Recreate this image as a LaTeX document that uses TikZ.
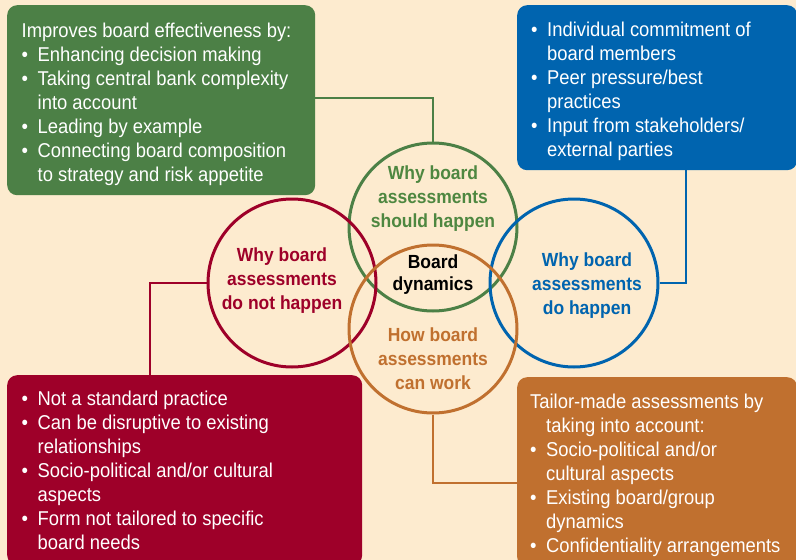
\documentclass[tikz,border=0pt]{standalone}
\usepackage{fontspec}
\setmainfont{Liberation Sans}[FakeStretch=0.92]
\definecolor{bggold}{HTML}{FDEBCF}
\definecolor{gpanel}{HTML}{4C8046}
\definecolor{gtext}{HTML}{4E8740}
\definecolor{bpanel}{HTML}{0064AF}
\definecolor{rpanel}{HTML}{9E0029}
\definecolor{opanel}{HTML}{C0702F}
\newcommand{\bul}{\makebox[16pt][l]{\textbullet}}
\newcommand{\ind}{\hspace*{16pt}}
\begin{document}
\begin{tikzpicture}[x=1pt, y=-1pt,
    panel/.style={rounded corners=10pt, inner sep=0pt, anchor=north west},
    note/.style={anchor=north west, inner sep=0pt, align=left, text=white, font=\fontsize{20}{24}\selectfont},
    ring/.style={circle, draw, line width=3pt, minimum size=168pt, inner sep=0pt},
    tag/.style={anchor=north, inner sep=0pt, align=center, font=\bfseries\fontsize{19}{24}\selectfont},
    link/.style={line width=2.5pt}]
    \useasboundingbox (0,0) rectangle (796,560);
    \fill[bggold] (0,0) rectangle (796,560);

    \node[panel, fill=gpanel, minimum width=308pt, minimum height=190pt] (gbox) at (7,5) {};
    \node[note] (gnote) at (21.5,22.5) {Improves board effectiveness by:\\
      \bul Enhancing decision making\\
      \bul Taking central bank complexity\\
      \ind into account\\
      \bul Leading by example\\
      \bul Connecting board composition\\
      \ind to strategy and risk appetite};

    \node[panel, fill=bpanel, minimum width=280pt, minimum height=165pt] (bbox) at (517,5) {};
    \node[note] (bnote) at (531,22) {\bul Individual commitment of\\
      \ind board members\\
      \bul Peer pressure/best\\
      \ind practices\\
      \bul Input from stakeholders/\\
      \ind external parties};

    \node[panel, fill=rpanel, minimum width=355pt, minimum height=190pt] (rbox) at (7,375) {};
    \node[note] (rnote) at (21.5,391) {\bul Not a standard practice\\
      \bul Can be disruptive to existing\\
      \ind relationships\\
      \bul Socio-political and/or cultural\\
      \ind aspects\\
      \bul Form not tailored to specific\\
      \ind board needs};

    \node[panel, fill=opanel, minimum width=280pt, minimum height=190pt] (obox) at (517,377) {};
    \node[note] (onote) at (530,393.5) {Tailor-made assessments by\\
      \ind taking into account:\\
      \bul Socio-political and/or\\
      \ind cultural aspects\\
      \bul Existing board/group\\
      \ind dynamics\\
      \bul Confidentiality arrangements};

    \node[ring, draw=gpanel] (gring) at (433,227) {};
    \node[ring, draw=rpanel] (rring) at (292,283) {};
    \node[ring, draw=bpanel] (bring) at (574,283) {};
    \node[ring, draw=opanel] (oring) at (433,329) {};

    \node[tag, text=gtext] (gtag) at (433,166) {Why board\\assessments\\should happen};
    \node[tag, text=rpanel] (rtag) at (282,248) {Why board\\assessments\\do not happen};
    \node[tag, text=bpanel] (btag) at (587,253) {Why board\\assessments\\do happen};
    \node[tag, font=\bfseries\fontsize{19}{22}\selectfont] (ctag) at (433,255) {Board\\dynamics};
    \node[tag, text=opanel] (otag) at (433,328) {How board\\assessments\\can work};

    \coordinate (gknee) at (433,98);
    \draw[link, gpanel] (gbox.east |- gknee) -- (gknee) -- (gring.north);

    \coordinate (bknee) at (686,283);
    \draw[link, bpanel] (bbox.south -| bknee) -- (bknee) -- (bring.east);

    \coordinate (rknee) at (150,283);
    \draw[link, rpanel] (rring.west) -- (rknee) -- (rknee |- rbox.north);

    \coordinate (oknee) at (433,483);
    \draw[link, opanel] (oring.south) -- (oknee) -- (oknee -| obox.west);
\end{tikzpicture}
\end{document}
